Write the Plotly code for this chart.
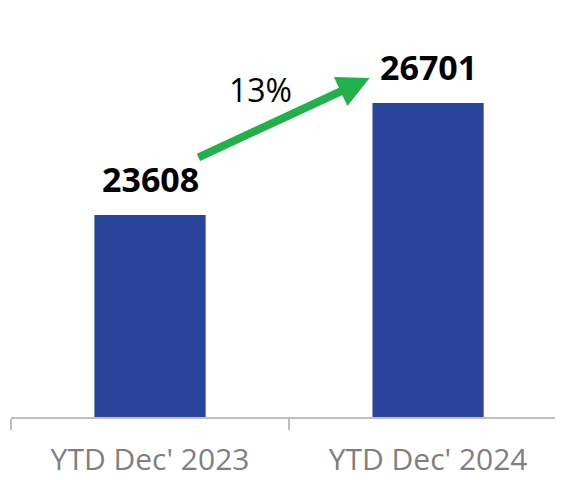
import plotly.graph_objects as go

categories = ["YTD Dec' 2023", "YTD Dec' 2024"]
values = [23608, 26701]
growth_label = "13%"

bar_color = "#2B459C"
arrow_color = "#22B04B"

fig = go.Figure()
fig.add_trace(go.Bar(
    x=categories, y=values, marker_color=bar_color, marker_line_width=0,
    width=0.4, hoverinfo="skip",
))

for i, v in enumerate(values):
    fig.add_annotation(
        x=i, y=v, xref="x", yref="y", text=f"<b>{v}</b>", showarrow=False,
        yanchor="middle", yshift=36,
        font=dict(family="Open Sans", size=34, color="black"),
    )

# growth arrow
fig.add_annotation(
    x=0.79, y=27392, ax=0.169, ay=25183, xref="x", yref="y", axref="x", ayref="y",
    text="", showarrow=True, arrowhead=2, arrowsize=0.8, arrowwidth=8,
    arrowcolor=arrow_color, standoff=0, startstandoff=0,
)
fig.add_annotation(
    x=0.396, y=27061, xref="x", yref="y", text=growth_label, showarrow=False,
    font=dict(family="Open Sans", size=32, color="black"),
)

fig.update_layout(
    width=563, height=480,
    margin=dict(l=3, r=0, t=0, b=71),
    paper_bgcolor="white", plot_bgcolor="white",
    showlegend=False,
    xaxis=dict(
        type="category", range=[-0.5, 1.514],
        showline=True, linecolor="#BFBFBF", linewidth=1.5,
        ticks="outside", tickson="boundaries", ticklen=11, tickcolor="#BFBFBF", tickwidth=1.5,
        ticklabelstandoff=15,
        tickfont=dict(family="Open Sans", size=30, color="#7F7F7F"),
        showgrid=False, zeroline=False, fixedrange=True,
    ),
    yaxis=dict(
        range=[18030, 29325], visible=False, showgrid=False, zeroline=False, fixedrange=True,
    ),
)

fig.write_html("out.html", config={"displayModeBar": False})
